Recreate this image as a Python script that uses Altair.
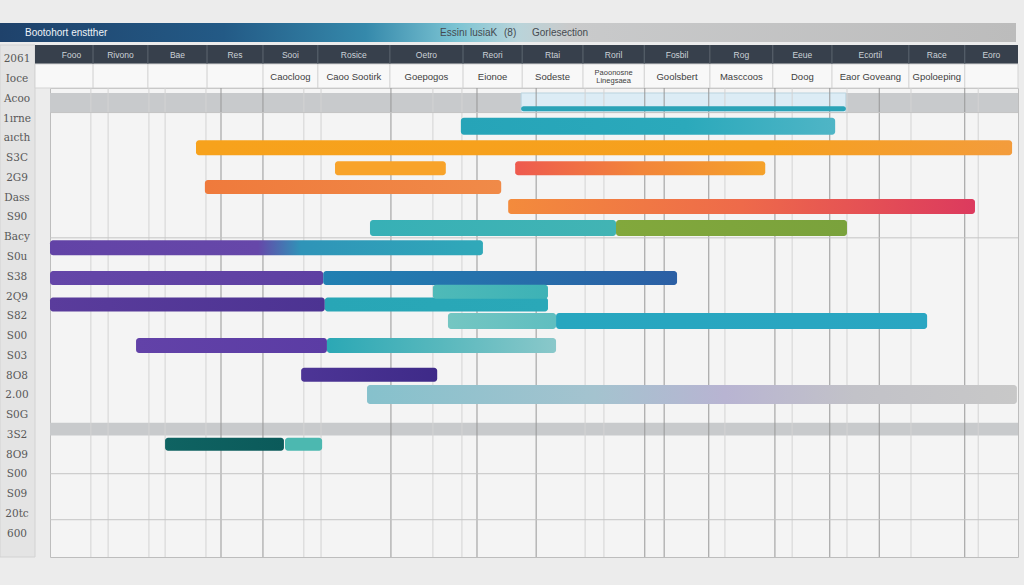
import altair as alt
import pandas as pd

# ---------------- data ----------------
TITLE = "Bootohort enstther"
HEADER_NOTE = ["Essinı lusiaK", "(8)", "Gorlesection"]

# timeline periods (day units, 0-180)
period_bounds = [0, 8.0, 18.2, 29.2, 39.6, 49.8, 63.2, 76.8, 87.8, 99.1,
                 110.5, 122.7, 134.4, 145.4, 159.7, 170.1, 180]
period_labels = ["Fooo", "Rivono", "Bae", "Res", "Sooi", "Rosice", "Oetro", "Reori",
                 "Rtai", "Roril", "Fosbil", "Rog", "Eeue", "Ecortil", "Race", "Eoro"]
period_sub = ["", "", "", "", "Caocloog", "Caoo Sootirk", "Goepogos", "Eionoe",
              "Sodeste", "Paoonosne\nLinegsaea", "Goolsbert", "Masccoos", "Doog",
              "Eaor Goveang", "Gpoloeping", ""]

row_labels = ["2061", "Ioce", "Acoo", "1ırne", "aıcth", "S3C", "2G9", "Dass", "S90",
              "Bacy", "S0u", "S38", "2Q9", "S82", "S00", "S03", "8O8", "2.00", "S0G",
              "3S2", "8O9", "S00", "S09", "20tc", "600"]

# tasks: lane (row position), start day, end day
task_lane = [0.8, 1.7, 2.8, 3.85, 3.85, 4.8, 5.8, 6.9, 6.9, 7.9, 9.45, 9.45,
             10.8, 10.8, 10.15, 11.65, 11.65, 12.9, 12.9, 14.4, 15.4, 17.95, 17.95]
task_start = [87.6, 76.4, 27.15, 53.0, 86.5, 28.8, 85.2, 59.5, 105.25, 0.0, 0.0, 50.8,
              0.0, 51.1, 71.2, 74.0, 94.1, 16.0, 51.5, 46.7, 58.95, 21.4, 43.7]
task_end = [148.0, 146.0, 178.9, 73.6, 133.0, 83.9, 172.0, 105.25, 148.2, 80.5, 50.8, 116.6,
            51.1, 92.6, 92.6, 94.1, 163.1, 51.5, 94.1, 72.0, 179.8, 43.5, 50.6]

# bar styles: colour stops (colour, offset along the bar) and thickness in px
task_colors = [
    [("#2ba3b7", 0)],
    [("#26a4b8", 0), ("#2ba9bb", 0.6), ("#4fb5c6", 1)],
    [("#f7a21c", 0), ("#f6a01e", 0.7), ("#f39c3c", 1)],
    [("#f8a32a", 0)],
    [("#ee5a4f", 0), ("#f2853a", 0.5), ("#f5a22a", 1)],
    [("#ef7a3c", 0), ("#f08a48", 1)],
    [("#f38b3c", 0), ("#ee6a4a", 0.5), ("#dc3a5e", 1)],
    [("#37b0b6", 0), ("#42b4b4", 1)],
    [("#82a83c", 0), ("#7aa23c", 1)],
    [("#6243a6", 0), ("#6647a9", 0.48), ("#2f94b8", 0.58), ("#30a9b9", 1)],
    [("#6446a8", 0), ("#5e40a2", 1)],
    [("#2180b2", 0), ("#2b5fa4", 1)],
    [("#5a3c9c", 0), ("#4c3392", 1)],
    [("#28a6b6", 0), ("#2aa8b8", 1)],
    [("#4fbab8", 0), ("#3db2b6", 1)],
    [("#74c6c2", 0), ("#5fbec0", 1)],
    [("#27a6bf", 0), ("#2aa6c2", 1)],
    [("#6242a8", 0), ("#5b3ca4", 1)],
    [("#2ba8b5", 0), ("#58b8bd", 0.5), ("#8ac8ca", 1)],
    [("#4d3596", 0), ("#3e2a88", 1)],
    [("#86c1cc", 0), ("#a4c3cf", 0.35), ("#b8b4d2", 0.55), ("#c2c2c8", 0.75), ("#c8c8c8", 1)],
    [("#0f6362", 0), ("#0b5a5a", 1)],
    [("#4cb8b0", 0)],
]
task_thick = [5, 17, 15, 14, 14, 14, 15, 16, 16, 15, 14, 14, 14, 14, 14, 16, 16, 15, 15, 14, 19, 13, 13]

grid_light = [7.6, 10.8, 18.4, 21.4, 29.0, 47.2, 50.4, 71.2, 76.6, 99.5, 103.0,
              125.5, 138.0, 148.2, 160.1, 172.6]
grid_dark = [31.8, 39.6, 63.4, 79.4, 90.4, 110.6, 114.2, 122.5, 134.8, 145.0, 154.2, 170.1]
hline_lanes = [1.0, 7.4, 19.45, 21.8]
band_top = [0.0, 16.85]
band_bottom = [1.0, 17.5]
highlight_start, highlight_end = 87.6, 148.0

# ---------------- layout ----------------
W, H = 968, 469
FONT = "Liberation Sans"

xs = alt.Scale(domain=[0, 180], nice=False, zero=False)
ys = alt.Scale(domain=[0, 23.45], reverse=True, nice=False, zero=False)
X = lambda f: alt.X(f, type="quantitative", scale=xs, axis=None)
X2 = lambda f: alt.X2(f)
Y = lambda f: alt.Y(f, type="quantitative", scale=ys, axis=None)
Y2 = lambda f: alt.Y2(f)

one = pd.DataFrame({"k": [0]})
layers = []

# title bar
title_grad = alt.Gradient(gradient="linear", x1=0, x2=1, y1=0, y2=0, stops=[
    alt.GradientStop(color="#1f426b", offset=0),
    alt.GradientStop(color="#235a86", offset=0.22),
    alt.GradientStop(color="#3589ab", offset=0.36),
    alt.GradientStop(color="#7cc4d3", offset=0.45),
    alt.GradientStop(color="#b9d4da", offset=0.51),
    alt.GradientStop(color="#c9cacb", offset=0.56),
    alt.GradientStop(color="#bcbcbc", offset=1)])
layers.append(alt.Chart(one).mark_rect(color=title_grad).encode(
    x=alt.value(-50), x2=alt.value(966), y=alt.value(-65), y2=alt.value(-46)))
layers.append(alt.Chart(pd.DataFrame({"t": [TITLE]})).mark_text(
    align="left", baseline="middle", font=FONT, fontSize=10, color="#eef3f7").encode(
    x=alt.value(-25), y=alt.value(-55.5), text="t:N"))
for t, px in zip(HEADER_NOTE, [390, 454, 482]):
    layers.append(alt.Chart(pd.DataFrame({"t": [t]})).mark_text(
        align="left", baseline="middle", font=FONT, fontSize=10, color="#454a50").encode(
        x=alt.value(px), y=alt.value(-55.5), text="t:N"))

# left label column
layers.append(alt.Chart(one).mark_rect(color="#e4e4e4", stroke="#d2d2d2").encode(
    x=alt.value(-50), x2=alt.value(-15), y=alt.value(-43), y2=alt.value(H)))
rl = pd.DataFrame({"t": row_labels, "lane": [-1.72 + i * 1.01 for i in range(len(row_labels))]})
layers.append(alt.Chart(rl).mark_text(font="DejaVu Serif", fontSize=10.5, color="#585858",
                                      baseline="middle").encode(
    x=alt.value(-33), y=Y("lane"), text="t:N"))

# header rows
hdr = pd.DataFrame({"a": period_bounds[:-1], "b": period_bounds[1:],
                    "lab": period_labels, "sub": period_sub})
hdr["c"] = (hdr.a + hdr.b) / 2
bnd = pd.DataFrame({"d": period_bounds[1:-1]})
layers.append(alt.Chart(one).mark_rect(color="#37404c").encode(
    x=alt.value(-15), x2=alt.value(W), y=alt.value(-43), y2=alt.value(-24)))
layers.append(alt.Chart(one).mark_rect(color="#f8f8f8", stroke="#d4d4d4").encode(
    x=alt.value(-15), x2=alt.value(W), y=alt.value(-24), y2=alt.value(0)))
layers.append(alt.Chart(bnd).mark_rule(color="#5d6670", strokeWidth=1).encode(
    x=X("d"), y=alt.value(-43), y2=alt.value(-24)))
layers.append(alt.Chart(bnd).mark_rule(color="#cfcfcf", strokeWidth=1).encode(
    x=X("d"), y=alt.value(-24), y2=alt.value(0)))
layers.append(alt.Chart(hdr).mark_text(font=FONT, fontSize=8.5, color="#ccd2d8",
                                       baseline="middle").encode(
    x=X("c"), y=alt.value(-33.5), text="lab:N"))
one_line = hdr[(hdr["sub"] != "") & (~hdr["sub"].str.contains("\n"))]
two_line = hdr[hdr["sub"].str.contains("\n")]
layers.append(alt.Chart(one_line).mark_text(
    font=FONT, fontSize=9.5, color="#3e3e3e", baseline="middle").encode(
    x=X("c"), y=alt.value(-11), text="sub:N"))
layers.append(alt.Chart(two_line).mark_text(
    font=FONT, fontSize=7.5, color="#3e3e3e", baseline="middle", lineBreak="\n",
    lineHeight=8).encode(x=X("c"), y=alt.value(-15), text="sub:N"))

# bands and gridlines
bands = pd.DataFrame({"a": band_top, "b": band_bottom})
layers.append(alt.Chart(bands).mark_rect(color="#c8cacc").encode(
    x=alt.value(0), x2=alt.value(W), y=Y("a"), y2=Y2("b")))
hl = pd.DataFrame({"s": [highlight_start], "e": [highlight_end],
                   "a": [band_top[0]], "b": [band_bottom[0]]})
layers.append(alt.Chart(hl).mark_rect(color="#dcecf5", stroke="#b9d3df").encode(
    x=X("s"), x2=X2("e"), y=Y("a"), y2=Y2("b")))
layers.append(alt.Chart(pd.DataFrame({"d": grid_light})).mark_rule(
    color="#d3d3d3", strokeWidth=1).encode(x=X("d"), y=alt.value(0), y2=alt.value(H)))
layers.append(alt.Chart(pd.DataFrame({"d": grid_dark})).mark_rule(
    color="#979797", strokeWidth=1).encode(x=X("d"), y=alt.value(0), y2=alt.value(H)))
layers.append(alt.Chart(pd.DataFrame({"l": hline_lanes})).mark_rule(
    color="#c4c4c4", strokeWidth=1).encode(y=Y("l"), x=alt.value(0), x2=alt.value(W)))

# task bars
for lane, s, e, cols, th in zip(task_lane, task_start, task_end, task_colors, task_thick):
    if len(cols) == 1:
        fill = cols[0][0]
    else:
        fill = alt.Gradient(gradient="linear", x1=0, x2=1, y1=0, y2=0,
                            stops=[alt.GradientStop(color=c, offset=o) for c, o in cols])
    df = pd.DataFrame({"lane": [lane], "s": [s], "e": [e]})
    layers.append(alt.Chart(df).mark_bar(color=fill, cornerRadius=3, orient="horizontal").encode(
        x=X("s"), x2=X2("e"), y=Y("lane"), size=alt.value(th)))

chart = alt.layer(*layers).properties(
    width=W, height=H,
    padding={"left": 50, "top": 88, "right": 6, "bottom": 28},
    autosize=alt.AutoSizeParams(type="none"),
    background="#ececec",
).configure_view(fill="#f4f4f4", stroke="#bdbdbd")

chart.save("out.html", embed_options={"renderer": "svg", "actions": False})
